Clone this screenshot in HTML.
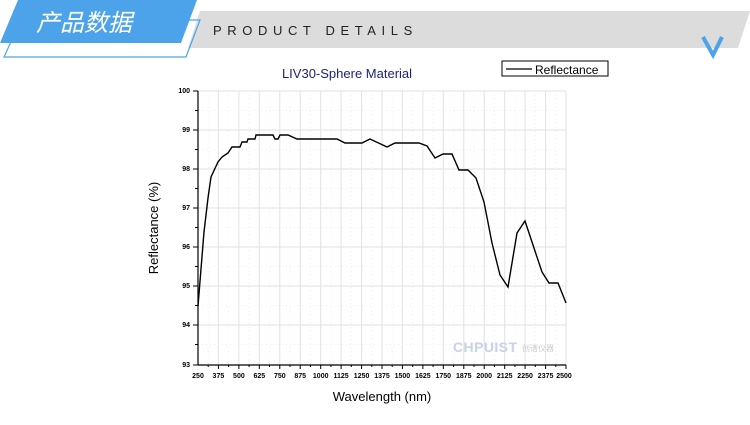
<!DOCTYPE html>
<html><head><meta charset="utf-8"><style>
body{margin:0;background:#fff;width:750px;height:420px;overflow:hidden;font-family:"Liberation Sans",sans-serif}
</style></head><body>
<svg width="750" height="420" xmlns="http://www.w3.org/2000/svg" font-family="Liberation Sans, sans-serif">
<polygon points="200,11 750,11 738,48 188,48" fill="#dcdcdc"/>
<polygon points="21,20 200,20 186,57 4,57" fill="none" stroke="#4da3ea" stroke-width="1.2"/>
<polygon points="18,0 197,0 181,43 0,43" fill="#4da3ea"/>
<text x="36" y="31" fill="#fff" font-size="24" font-style="italic" font-family="Noto Sans CJK SC, sans-serif">产品数据</text>
<text x="213" y="35" font-size="13" letter-spacing="5.6" fill="#222">PRODUCT DETAILS</text>
<polyline points="703,37 713,55 722,37" fill="none" stroke="#4da3ea" stroke-width="4"/>
<text x="347" y="78" text-anchor="middle" font-size="13" fill="#1a237e">LIV30-Sphere Material</text>
<rect x="502" y="61" width="106" height="15" fill="#fff" stroke="#000" stroke-width="1"/>
<line x1="506" y1="69" x2="532" y2="69" stroke="#000" stroke-width="1.3"/>
<text x="535" y="74" font-size="12">Reflectance</text>
<g stroke="#e2e2e2" stroke-width="1">
<line x1="218.4" y1="91" x2="218.4" y2="365"/><line x1="238.9" y1="91" x2="238.9" y2="365"/><line x1="259.3" y1="91" x2="259.3" y2="365"/><line x1="279.8" y1="91" x2="279.8" y2="365"/><line x1="300.2" y1="91" x2="300.2" y2="365"/><line x1="320.7" y1="91" x2="320.7" y2="365"/><line x1="341.1" y1="91" x2="341.1" y2="365"/><line x1="361.6" y1="91" x2="361.6" y2="365"/><line x1="382" y1="91" x2="382" y2="365"/><line x1="402.4" y1="91" x2="402.4" y2="365"/><line x1="422.9" y1="91" x2="422.9" y2="365"/><line x1="443.3" y1="91" x2="443.3" y2="365"/><line x1="463.8" y1="91" x2="463.8" y2="365"/><line x1="484.2" y1="91" x2="484.2" y2="365"/><line x1="504.7" y1="91" x2="504.7" y2="365"/><line x1="525.1" y1="91" x2="525.1" y2="365"/><line x1="545.6" y1="91" x2="545.6" y2="365"/><line x1="566" y1="91" x2="566" y2="365"/>
<line x1="198" y1="91" x2="566" y2="91"/><line x1="198" y1="130" x2="566" y2="130"/><line x1="198" y1="169" x2="566" y2="169"/><line x1="198" y1="208" x2="566" y2="208"/><line x1="198" y1="247" x2="566" y2="247"/><line x1="198" y1="286" x2="566" y2="286"/><line x1="198" y1="325" x2="566" y2="325"/>
</g>
<g stroke="#efefef" stroke-dasharray="1,3">
<line x1="198" y1="110.5" x2="566" y2="110.5"/><line x1="198" y1="149.5" x2="566" y2="149.5"/><line x1="198" y1="188.5" x2="566" y2="188.5"/><line x1="198" y1="227.5" x2="566" y2="227.5"/><line x1="198" y1="266.5" x2="566" y2="266.5"/><line x1="198" y1="305.5" x2="566" y2="305.5"/><line x1="198" y1="344.5" x2="566" y2="344.5"/>
<line x1="208.2" y1="91" x2="208.2" y2="365"/><line x1="228.6" y1="91" x2="228.6" y2="365"/><line x1="249.1" y1="91" x2="249.1" y2="365"/><line x1="269.5" y1="91" x2="269.5" y2="365"/><line x1="290" y1="91" x2="290" y2="365"/><line x1="310.4" y1="91" x2="310.4" y2="365"/><line x1="330.9" y1="91" x2="330.9" y2="365"/><line x1="351.3" y1="91" x2="351.3" y2="365"/><line x1="371.8" y1="91" x2="371.8" y2="365"/><line x1="392.2" y1="91" x2="392.2" y2="365"/><line x1="412.7" y1="91" x2="412.7" y2="365"/><line x1="433.1" y1="91" x2="433.1" y2="365"/><line x1="453.6" y1="91" x2="453.6" y2="365"/><line x1="474" y1="91" x2="474" y2="365"/><line x1="494.4" y1="91" x2="494.4" y2="365"/><line x1="514.9" y1="91" x2="514.9" y2="365"/><line x1="535.3" y1="91" x2="535.3" y2="365"/><line x1="555.8" y1="91" x2="555.8" y2="365"/>
</g>
<text x="453" y="352" font-size="14" font-weight="bold" fill="#c5d3ea" textLength="64">CHPUIST</text>
<text x="522" y="351" font-size="8" fill="#ccc" font-family="Noto Sans CJK SC, sans-serif">创谱仪器</text>
<g stroke="#000" stroke-width="1.2">
<line x1="198" y1="91" x2="198" y2="365"/><line x1="198" y1="365" x2="566" y2="365"/>
</g>
<g stroke="#000" stroke-width="1">
<line x1="193" y1="91" x2="198" y2="91"/><line x1="193" y1="130" x2="198" y2="130"/><line x1="193" y1="169" x2="198" y2="169"/><line x1="193" y1="208" x2="198" y2="208"/><line x1="193" y1="247" x2="198" y2="247"/><line x1="193" y1="286" x2="198" y2="286"/><line x1="193" y1="325" x2="198" y2="325"/><line x1="193" y1="365" x2="198" y2="365"/>
<line x1="195" y1="110.5" x2="198" y2="110.5"/><line x1="195" y1="149.5" x2="198" y2="149.5"/><line x1="195" y1="188.5" x2="198" y2="188.5"/><line x1="195" y1="227.5" x2="198" y2="227.5"/><line x1="195" y1="266.5" x2="198" y2="266.5"/><line x1="195" y1="305.5" x2="198" y2="305.5"/><line x1="195" y1="344.5" x2="198" y2="344.5"/>
<line x1="218.4" y1="365" x2="218.4" y2="369"/><line x1="238.9" y1="365" x2="238.9" y2="369"/><line x1="259.3" y1="365" x2="259.3" y2="369"/><line x1="279.8" y1="365" x2="279.8" y2="369"/><line x1="300.2" y1="365" x2="300.2" y2="369"/><line x1="320.7" y1="365" x2="320.7" y2="369"/><line x1="341.1" y1="365" x2="341.1" y2="369"/><line x1="361.6" y1="365" x2="361.6" y2="369"/><line x1="382" y1="365" x2="382" y2="369"/><line x1="402.4" y1="365" x2="402.4" y2="369"/><line x1="422.9" y1="365" x2="422.9" y2="369"/><line x1="443.3" y1="365" x2="443.3" y2="369"/><line x1="463.8" y1="365" x2="463.8" y2="369"/><line x1="484.2" y1="365" x2="484.2" y2="369"/><line x1="504.7" y1="365" x2="504.7" y2="369"/><line x1="525.1" y1="365" x2="525.1" y2="369"/><line x1="545.6" y1="365" x2="545.6" y2="369"/><line x1="566" y1="365" x2="566" y2="369"/>
<line x1="208.2" y1="365" x2="208.2" y2="367"/><line x1="228.6" y1="365" x2="228.6" y2="367"/><line x1="249.1" y1="365" x2="249.1" y2="367"/><line x1="269.5" y1="365" x2="269.5" y2="367"/><line x1="290" y1="365" x2="290" y2="367"/><line x1="310.4" y1="365" x2="310.4" y2="367"/><line x1="330.9" y1="365" x2="330.9" y2="367"/><line x1="351.3" y1="365" x2="351.3" y2="367"/><line x1="371.8" y1="365" x2="371.8" y2="367"/><line x1="392.2" y1="365" x2="392.2" y2="367"/><line x1="412.7" y1="365" x2="412.7" y2="367"/><line x1="433.1" y1="365" x2="433.1" y2="367"/><line x1="453.6" y1="365" x2="453.6" y2="367"/><line x1="474" y1="365" x2="474" y2="367"/><line x1="494.4" y1="365" x2="494.4" y2="367"/><line x1="514.9" y1="365" x2="514.9" y2="367"/><line x1="535.3" y1="365" x2="535.3" y2="367"/><line x1="555.8" y1="365" x2="555.8" y2="367"/>
</g>
<g font-size="7" font-weight="bold" text-anchor="end">
<text x="190" y="93">100</text><text x="190" y="132">99</text><text x="190" y="171">98</text><text x="190" y="210">97</text><text x="190" y="249">96</text><text x="190" y="288">95</text><text x="190" y="327">94</text><text x="190" y="367">93</text>
</g>
<g font-size="7" font-weight="bold" text-anchor="middle">
<text x="198" y="378">250</text><text x="218.4" y="378">375</text><text x="238.9" y="378">500</text><text x="259.3" y="378">625</text><text x="279.8" y="378">750</text><text x="300.2" y="378">875</text><text x="320.7" y="378">1000</text><text x="341.1" y="378">1125</text><text x="361.6" y="378">1250</text><text x="382" y="378">1375</text><text x="402.4" y="378">1500</text><text x="422.9" y="378">1625</text><text x="443.3" y="378">1750</text><text x="463.8" y="378">1875</text><text x="484.2" y="378">2000</text><text x="504.7" y="378">2125</text><text x="525.1" y="378">2250</text><text x="545.6" y="378">2375</text><text x="564" y="378">2500</text>
</g>
<text x="382" y="401" text-anchor="middle" font-size="13">Wavelength (nm)</text>
<text transform="translate(158,228) rotate(-90)" text-anchor="middle" font-size="13">Reflectance (%)</text>
<polyline fill="none" stroke="#000" stroke-width="1.4" points="198,306 204,232 208,198 211,177 218,162 222,157 225,155 228,153 232,147 240,147 242,142 247,142 248,139 255,139 256,135 273,135 275,139 278,139 280,135 288,135 297,139 337,139 345,143 362,143 370,139 387,147 395,143 419,143 427,146 435,158 443,154 452,154 459,170 468,170 476,178 484,202 492,243 500,275 508,287 517,233 525,221 533,245 542,272 549,283 558,283 566,303"/>
</svg>
</body></html>
